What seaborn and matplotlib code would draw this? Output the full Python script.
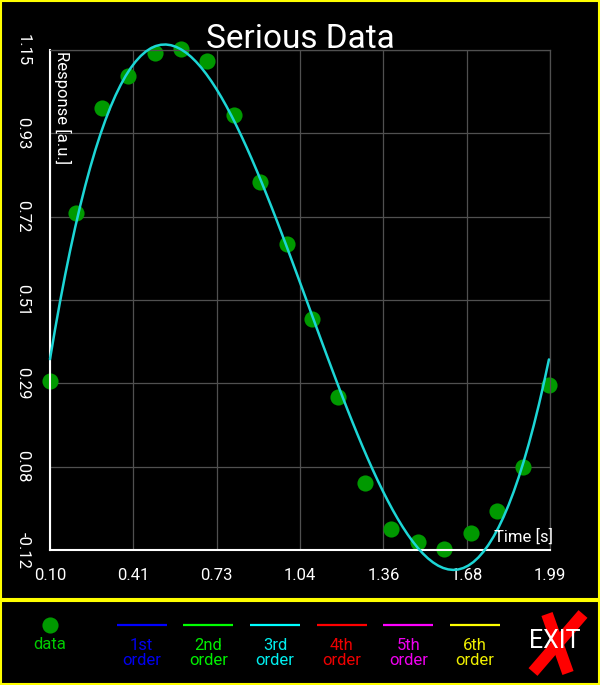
import numpy as np
import pandas as pd
import matplotlib
matplotlib.use("Agg")
import matplotlib.pyplot as plt
from matplotlib.patches import Rectangle
from matplotlib.lines import Line2D
import seaborn as sns

# ---------------- data ----------------
time_s = [0.100, 0.198, 0.297, 0.395, 0.497, 0.595, 0.693, 0.796, 0.894, 0.996,
          1.090, 1.190, 1.290, 1.390, 1.491, 1.589, 1.690, 1.788, 1.888, 1.986]
response = [0.309, 0.736, 1.003, 1.084, 1.142, 1.153, 1.122, 0.985, 0.815, 0.657,
            0.467, 0.269, 0.050, -0.067, -0.099, -0.118, -0.078, -0.020, 0.091, 0.299]

x_tick_labels = ["0.10", "0.41", "0.73", "1.04", "1.36", "1.68", "1.99"]
y_tick_labels = ["-0.12", "0.08", "0.29", "0.51", "0.72", "0.93", "1.15"]

legend_labels = ["1st\norder", "2nd\norder", "3rd\norder", "4th\norder", "5th\norder", "6th\norder"]
legend_line_colors = ["#0000ff", "#00ff00", "#00ffff", "#ff0000", "#ff00ff", "#ffff00"]
legend_text_colors = ["#0000ee", "#00ee00", "#00eeee", "#ee0000", "#ee00ee", "#eeee00"]

title = "Serious Data"
x_label = "Time [s]"
y_label = "Response [a.u.]"

df = pd.DataFrame({"time": time_s, "response": response})

# ---------------- style ----------------
sns.set_style("dark", rc={"axes.facecolor": "black", "figure.facecolor": "black"})
plt.rcParams["font.family"] = ["Roboto", "DejaVu Sans"]

W, H = 600, 685
fig = plt.figure(figsize=(6, 6.85), dpi=100, facecolor="black")

# decoration layer in pixel coordinates
deco = fig.add_axes([0, 0, 1, 1])
deco.set_xlim(0, W)
deco.set_ylim(H, 0)
deco.axis("off")
deco.patch.set_alpha(0)

yellow = "#ffff00"
deco.add_patch(Rectangle((1, 1), 598, 597.5, fill=False, edgecolor=yellow, lw=1.5))
deco.add_patch(Rectangle((1, 600.5), 598, 83, fill=False, edgecolor=yellow, lw=1.5))

# main axes
ax = fig.add_axes([50 / W, (H - 550) / H, 500 / W, 500 / H])
ax.set_facecolor("black")

xmin, xmax = 0.10, 1.99
ymin, ymax = -0.12, 1.15

sns.regplot(data=df, x="time", y="response", order=3, ci=None, scatter=False,
            line_kws={"color": "#1cd6d6", "lw": 1.8, "zorder": 3, "clip_on": False},
            ax=ax, truncate=True)
sns.scatterplot(data=df, x="time", y="response", color="#009900", s=135,
                linewidth=0, ax=ax, zorder=2, clip_on=False)

ax.set_xlim(xmin, xmax)
ax.set_ylim(ymin, ymax)
ax.set_xticks(np.linspace(xmin, xmax, len(x_tick_labels)), x_tick_labels)
ax.set_yticks(np.linspace(ymin, ymax, len(y_tick_labels)), y_tick_labels)
ax.set_xlabel("")
ax.set_ylabel("")

ax.grid(True, color="#505050", lw=0.9)
ax.tick_params(axis="both", colors="white", labelcolor="white", labelsize=12,
               direction="out", length=6, width=1.3)
ax.tick_params(axis="x", pad=7)
ax.tick_params(axis="y", pad=8)
for lab in ax.get_yticklabels():
    lab.set_rotation(-90)
    lab.set_va("center")

for side in ["left", "bottom"]:
    ax.spines[side].set_color("white")
    ax.spines[side].set_linewidth(1.5)
    ax.spines[side].set_visible(True)
for side in ["top", "right"]:
    ax.spines[side].set_color("#505050")
    ax.spines[side].set_linewidth(0.9)
    ax.spines[side].set_visible(True)

ax.text(0.026, 0.998, y_label, transform=ax.transAxes, rotation=-90,
        ha="center", va="top", color="white", fontsize=12)
ax.text(1.006, 0.026, x_label, transform=ax.transAxes,
        ha="right", va="center", color="white", fontsize=12)

deco.text(300.5, 48.3, title, ha="center", va="baseline", color="white", fontsize=24)

# ---------------- legend panel ----------------
deco.scatter([50], [625], s=135, color="#009900", linewidth=0)
deco.text(50, 644.3, "data", ha="center", va="center", color="#00cc00", fontsize=12)

for i, (lab, lc, tc) in enumerate(zip(legend_labels, legend_line_colors, legend_text_colors)):
    x0 = 116.7 + i * 66.67
    deco.add_line(Line2D([x0, x0 + 50], [625, 625], color=lc, lw=1.6,
                         solid_capstyle="butt"))
    deco.text(x0 + 25, 653, lab, ha="center", va="center", multialignment="center",
              color=tc, fontsize=12, linespacing=1.05)

deco.add_line(Line2D([547, 568], [614, 673], color="#ff0000", lw=8.5, solid_capstyle="butt"))
deco.add_line(Line2D([583, 533], [614, 672], color="#ff0000", lw=8.5, solid_capstyle="butt"))
deco.text(555, 641, "EXIT", ha="center", va="center", color="white", fontsize=18)

fig.savefig("out.png", dpi=100, facecolor="black")
